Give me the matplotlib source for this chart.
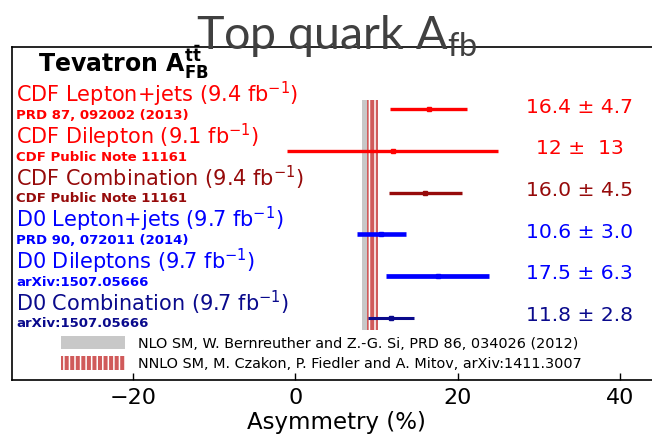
import matplotlib
matplotlib.use("Agg")
import matplotlib.pyplot as plt
import matplotlib.transforms as mtransforms
from matplotlib.patches import Patch

# ---------------- data ----------------
measurements = ["CDF Lepton+jets", "CDF Dilepton", "CDF Combination",
                "D0 Lepton+jets", "D0 Dileptons", "D0 Combination"]
luminosities = ["9.4", "9.1", "9.4", "9.7", "9.7", "9.7"]
references = ["PRD 87, 092002 (2013)", "CDF Public Note 11161", "CDF Public Note 11161",
              "PRD 90, 072011 (2014)", "arXiv:1507.05666", "arXiv:1507.05666"]
values = [16.4, 12.0, 16.0, 10.6, 17.5, 11.8]
errors = [4.7, 13.0, 4.5, 3.0, 6.3, 2.8]
value_labels = ["16.4 \u00b1 4.7", "12 \u00b1  13", "16.0 \u00b1 4.5",
                "10.6 \u00b1 3.0", "17.5 \u00b1 6.3", "11.8 \u00b1 2.8"]

nlo_center, nlo_err = 8.8, 0.6
nnlo_center, nnlo_err = 9.5, 0.7
theory_labels = ["NLO SM, W. Bernreuther and Z.-G. Si, PRD 86, 034026 (2012)",
                 "NNLO SM, M. Czakon, P. Fiedler and A. Mitov, arXiv:1411.3007"]
xticks = [-20, 0, 20, 40]

# ---------------- style ----------------
colors = ["#ff0000", "#ff0000", "#960a0a", "#0000ff", "#0000ff", "#0a0a8c"]
linewidths = [2.4, 2.4, 2.4, 3.3, 3.4, 2.2]
plt.rcParams["font.family"] = ["DejaVu Sans"]
plt.rcParams["mathtext.default"] = "regular"
plt.rcParams["hatch.linewidth"] = 1.1

W, H = 652, 436
fig = plt.figure(figsize=(W / 100, H / 100), dpi=100)
ax = fig.add_axes([12 / W, 1 - 380 / H, 648 / W, 333 / H])
ax.set_xlim(-34.9, 44.9)
ax.set_ylim(-0.5, 7.5)

rows = list(range(len(values), 0, -1))

# theory bands
band_lo, band_hi = 0.71, 6.22
ax.fill_betweenx([band_lo, band_hi], nlo_center - nlo_err, nlo_center + nlo_err,
                 facecolor="#c8c8c8", edgecolor="none", linewidth=0, zorder=1)
ax.fill_betweenx([band_lo, band_hi], nnlo_center - nnlo_err, nnlo_center + nnlo_err,
                 facecolor="#d05a5a", edgecolor="white", hatch="|||", linewidth=0, zorder=2)

# measurements
for y, v, e, c, lw in zip(rows, values, errors, colors, linewidths):
    ax.errorbar(v, y, xerr=e, fmt="s", color=c, ecolor=c, elinewidth=lw,
                ms=3.3, mec=c, mfc=c, capsize=0, zorder=3)

trans = mtransforms.blended_transform_factory(ax.transAxes, ax.transData)
for y, name, lumi, ref, c, vl in zip(rows, measurements, luminosities, references, colors, value_labels):
    ax.text(0.006, y + 0.36, f"{name} ({lumi} fb$^{{-1}}$)", transform=trans,
            ha="left", va="center", fontsize=15.0, color=c)
    ax.text(0.006, y - 0.15, ref, transform=trans, ha="left", va="center",
            fontsize=9.5, fontweight="bold", color=c)
    ax.text(0.876, y + 0.05, vl, transform=trans, ha="center", va="center",
            fontsize=14.6, color=c)

ax.text(0.04, 7.13, r"Tevatron $A_{FB}^{t\bar{t}}$", transform=trans, ha="left",
        va="center", fontsize=17.0, fontweight="bold", color="black")

# legend
handles = [Patch(facecolor="#c8c8c8", edgecolor="none", label=theory_labels[0]),
           Patch(facecolor="#d05a5a", edgecolor="white", hatch="|||", linewidth=0,
                 label=theory_labels[1])]
ax.legend(handles=handles, loc="upper left", bbox_to_anchor=(61 / W, 1 - 336 / H),
          bbox_transform=fig.transFigure, frameon=False, fontsize=10.4,
          handlelength=4.4, handleheight=1.05, handletextpad=0.9,
          labelspacing=0.4, borderpad=0, borderaxespad=0)

# axes
for s in ["left", "top", "bottom"]:
    ax.spines[s].set_linewidth(1.2)
ax.spines["right"].set_visible(False)
ax.set_yticks([])
ax.set_xticks(xticks)
ax.tick_params(axis="x", direction="in", length=5, width=1, labelsize=16, pad=6)
ax.set_xlabel("Asymmetry (%)", fontsize=16.5, labelpad=2)

fig.text(196 / W, 1 - 49 / H, "Top quark $A_{fb}$", fontsize=33.5, family="Lato",
         fontweight="normal", color="#404040", ha="left", va="baseline")

fig.savefig("out.png", dpi=100)
